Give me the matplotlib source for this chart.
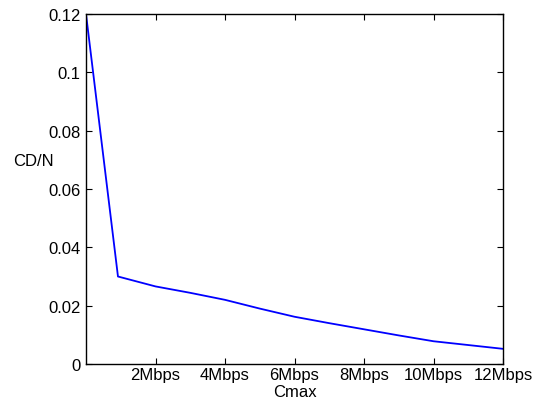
import matplotlib
matplotlib.use("Agg")
import matplotlib.pyplot as plt
import numpy as np

plt.rcParams['font.family'] = ['Liberation Sans', 'DejaVu Sans']

# values (x in Mbps)
cmax = [0.0, 0.92, 2.0, 3.0, 4.0, 5.0, 6.0, 7.0, 8.0, 9.0, 10.0, 11.0, 12.0]
cdn = [0.12, 0.030, 0.0266, 0.0244, 0.0220, 0.0190, 0.0162, 0.0140, 0.0119, 0.0098, 0.0078, 0.0065, 0.0052]
xtick_vals = [2, 4, 6, 8, 10, 12]
xtick_labels = ['2Mbps', '4Mbps', '6Mbps', '8Mbps', '10Mbps', '12Mbps']
ytick_vals = [0, 0.02, 0.04, 0.06, 0.08, 0.1, 0.12]
ytick_labels = ['0', '0.02', '0.04', '0.06', '0.08', '0.1', '0.12']

fig = plt.figure(figsize=(5.4, 4.02), dpi=100)
ax = fig.add_axes([86 / 540, 1 - 365 / 402, (503 - 86) / 540, (365 - 15) / 402])
ax.plot(cmax, cdn, color='#0000ff', lw=1.3)

ax.set_xlim(0, 12)
ax.set_ylim(0, 0.12)
ax.set_xticks(xtick_vals)
ax.set_xticklabels(xtick_labels)
ax.set_yticks(ytick_vals)
ax.set_yticklabels(ytick_labels)
ax.tick_params(direction='in', top=True, right=True, labelsize=12, length=4, width=0.8, pad=4)
ax.tick_params(axis='x', pad=2)
for s in ax.spines.values():
	s.set_linewidth(1.0)

ax.set_xlabel('Cmax', fontsize=12, va='top')
ax.xaxis.set_label_coords(0.5, -0.057)
ax.set_ylabel('CD/N', fontsize=12, rotation=0, va='center', ha='center')
ax.yaxis.set_label_coords(-0.127, 0.58)

fig.savefig('out.png', dpi=100)
